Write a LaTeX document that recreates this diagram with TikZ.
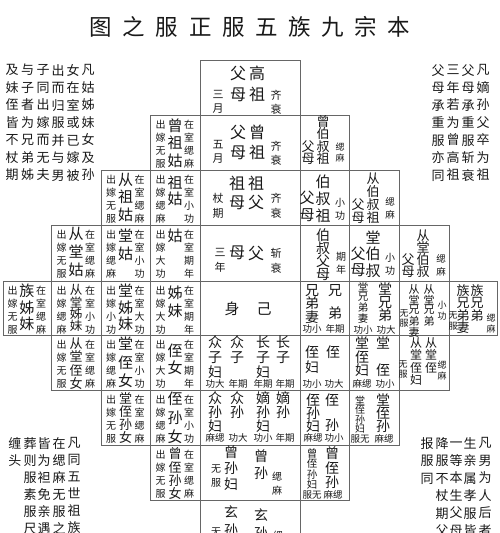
\documentclass[tikz,border=0pt]{standalone}
\usepackage{fontspec}
\setmainfont{Noto Sans CJK SC}
\tikzset{
  grid/.style={draw=black!60, line width=0.8pt},
  vcol/.style={inner sep=0pt, align=center, text=black!90},
  lab/.style={inner sep=0pt, font=\fontsize{9.5}{10}\selectfont, text=black!90},
}
% vertical column: name, x, y of first char centre, size, skip, text
\newcommand\vc[6]{\node[vcol,font=\fontsize{#4}{#5}\selectfont,anchor=north] (#1) at (#2,#3-0.45*#4) {\vphantom{国}#6};}
% female cell: id, xc, y0, left, right, bigsize, bigskip, bigoffset, big
\newcommand\fc[9]{%
 \vc{#1l}{#2-14.5}{#3+9.5}{10}{13}{#4}
 \vc{#1r}{#2+14}{#3+9.5}{10}{13}{#5}
 \vc{#1b}{#2}{#3+#8}{#6}{#7}{#9}}
\begin{document}
\begin{tikzpicture}[x=1pt,y=-1pt]
\useasboundingbox (0,0) rectangle (499,533);
% title
\node[inner sep=0pt,font=\fontsize{22.5}{24}\selectfont,text=black!90] (title) at (250,27)
 {图\hspace{10.6pt}之\hspace{10.6pt}服\hspace{10.6pt}正\hspace{10.6pt}服\hspace{10.6pt}五\hspace{10.6pt}族\hspace{10.6pt}九\hspace{10.6pt}宗\hspace{10.6pt}本};
% grid
\draw[grid] (200,60) rectangle (300,115);
\foreach \a/\b in {150/200,200/300,300/349} \draw[grid] (\a,115) rectangle (\b,170);
\foreach \a/\b in {101/150,150/200,200/300,300/349,349/399} \draw[grid] (\a,170) rectangle (\b,225);
\foreach \a/\b in {51/101,101/150,150/200,200/300,300/349,349/399,399/449} \draw[grid] (\a,225) rectangle (\b,281);
\foreach \a/\b in {3/51,51/101,101/150,150/200,200/300,300/349,349/399,399/449,449/497} \draw[grid] (\a,281) rectangle (\b,335);
\foreach \a/\b in {51/101,101/150,150/200,200/300,300/349,349/399,399/449} \draw[grid] (\a,335) rectangle (\b,390);
\foreach \a/\b in {101/150,150/200,200/300,300/349,349/399} \draw[grid] (\a,390) rectangle (\b,445);
\foreach \a/\b in {150/200,200/300,300/349} \draw[grid] (\a,445) rectangle (\b,500);
\draw[grid] (200,500) rectangle (300,560);
% corner texts
\vc{tl1}{12}{70}{13}{17.5}{及\\妹\\侄\\皆\\不\\杖\\期}
\vc{tl2}{27.5}{70}{13}{17.5}{与\\子\\者\\为\\兄\\弟\\姊}
\vc{tl3}{43}{70}{13}{17.5}{子\\同\\出\\嫁\\而\\无\\夫}
\vc{tl4}{58}{70}{13}{17.5}{出\\而\\归\\服\\并\\与\\男}
\vc{tl5}{73}{70}{13}{17.5}{女\\在\\室\\或\\已\\嫁\\被}
\vc{tl6}{88}{70}{13}{17.5}{凡\\姑\\姊\\妹\\女\\及\\孙}
\vc{tr1}{438}{70}{13}{17.5}{父\\母\\承\\重\\服\\亦\\同}
\vc{tr2}{453}{70}{13}{17.5}{三\\年\\若\\为\\曾\\高\\祖}
\vc{tr3}{468}{70}{13}{17.5}{父\\母\\承\\重\\服\\斩\\衰}
\vc{tr4}{483}{70}{13}{17.5}{凡\\嫡\\孙\\父\\卒\\为\\祖}
\vc{bl1}{15}{443}{13}{17}{缠\\头}
\vc{bl2}{30}{443}{13}{17}{葬\\则\\服\\素\\服\\尺}
\vc{bl3}{44}{443}{13}{17}{皆\\为\\袒\\免\\亲\\遇}
\vc{bl4}{59}{443}{13}{17}{在\\缌\\麻\\无\\服\\之}
\vc{bl5}{74}{443}{13}{17}{凡\\同\\五\\世\\祖\\族}
\vc{br1}{427}{443}{13}{17.5}{报\\服\\同}
\vc{br2}{442}{443}{13}{17.5}{降\\服\\不\\杖\\期\\父}
\vc{br3}{456}{443}{13}{17.5}{一\\等\\本\\生\\父\\母}
\vc{br4}{470}{443}{13}{17.5}{生\\亲\\属\\孝\\服\\皆}
\vc{br5}{485}{443}{13}{17.5}{凡\\男\\为\\人\\后\\者}
% female cells
\fc{a}{175}{115}{出\\嫁\\无\\服}{在\\室\\缌\\麻}{15}{17.5}{10}{曾\\祖\\姑}
\fc{b}{125.5}{170}{出\\嫁\\无\\服}{在\\室\\缌\\麻}{15}{17.5}{9.5}{从\\祖\\姑}
\fc{c}{175}{170}{出\\嫁\\缌\\麻}{在\\室\\小\\功}{15}{16.5}{12}{祖\\姑}
\fc{d}{76}{225}{出\\嫁\\无\\服}{在\\室\\缌\\麻}{15}{18}{9}{从\\堂\\姑}
\fc{e}{125.5}{225}{出\\嫁\\缌\\麻}{在\\室\\小\\功}{15}{18}{10.5}{堂\\姑}
\fc{f}{175}{225}{出\\嫁\\大\\功}{在\\室\\期\\年}{15}{18}{10.5}{姑}
\fc{g}{27}{281}{出\\嫁\\无\\服}{在\\室\\缌\\麻}{15}{16.5}{9.5}{族\\姊\\妹}
\fc{h}{76}{281}{出\\嫁\\缌\\麻}{在\\室\\小\\功}{12.5}{11.5}{9}{从\\堂\\姊\\妹}
\fc{i}{125.5}{281}{出\\嫁\\小\\功}{在\\室\\大\\功}{15}{16.5}{9.5}{堂\\姊\\妹}
\fc{j}{175}{281}{出\\嫁\\大\\功}{在\\室\\期\\年}{15}{18}{11}{姊\\妹}
\fc{k}{76}{335}{出\\嫁\\无\\服}{在\\室\\缌\\麻}{13}{13.3}{8.5}{从\\堂\\侄\\女}
\fc{l}{125.5}{335}{出\\嫁\\缌\\麻}{在\\室\\小\\功}{15}{18.5}{8.5}{堂\\侄\\女}
\fc{m}{175}{335}{出\\嫁\\大\\功}{在\\室\\期\\年}{15}{17}{15}{侄\\女}
\fc{n}{125.5}{390}{出\\嫁\\无\\服}{在\\室\\缌\\麻}{13}{13}{8.5}{堂\\侄\\孙\\女}
\fc{o}{175}{390}{出\\嫁\\缌\\麻}{在\\室\\小\\功}{15}{19}{8.5}{侄\\孙\\女}
\fc{p}{175}{445}{出\\嫁\\无\\服}{在\\室\\缌\\麻}{13}{13.3}{8.5}{曾\\侄\\孙\\女}
% centre column
\vc{c0a}{238}{73}{16}{21}{父\\母}
\vc{c0b}{257}{73}{16}{21}{高\\祖}
\vc{c0c}{218}{95}{11}{13.5}{三\\月}
\vc{c0d}{276}{95}{11}{13.5}{齐\\衰}
\vc{c1a}{238}{132}{16}{20}{父\\母}
\vc{c1b}{257}{132}{16}{20}{曾\\祖}
\vc{c1c}{218}{145}{11}{14}{五\\月}
\vc{c1d}{276}{146}{11}{14}{齐\\衰}
\vc{c2a}{237}{183}{16}{19.5}{祖\\母}
\vc{c2b}{256}{183}{16}{19.5}{祖\\父}
\vc{c2c}{218}{198}{11}{15}{杖\\期}
\vc{c2d}{276}{198}{11}{15}{齐\\衰}
\vc{c3a}{237}{253}{16}{19}{母}
\vc{c3b}{256}{253}{16}{19}{父}
\vc{c3c}{220}{253}{11}{15}{三\\年}
\vc{c3d}{276}{253}{11}{15}{斩\\衰}
\node[inner sep=0pt,font=\fontsize{15}{16}\selectfont,text=black!90] (c4a) at (232,309) {身};
\node[inner sep=0pt,font=\fontsize{15}{16}\selectfont,text=black!90] (c4b) at (264,309) {己};
\vc{c5a}{215}{342}{14}{15}{众\\子\\妇}
\vc{c5b}{237}{342}{14}{15}{众\\子}
\vc{c5c}{263}{342}{14}{15}{长\\子\\妇}
\vc{c5d}{283}{342}{14}{15}{长\\子}
\node[lab] (c5e) at (215,384) {功大};
\node[lab] (c5f) at (238,384) {年期};
\node[lab] (c5g) at (263,384) {年期};
\node[lab] (c5h) at (285,384) {年期};
\vc{c6a}{215}{398}{14}{14}{众\\孙\\妇}
\vc{c6b}{237}{398}{14}{14}{众\\孙}
\vc{c6c}{263}{398}{14}{14}{嫡\\孙\\妇}
\vc{c6d}{283}{398}{14}{14}{嫡\\孙}
\node[lab] (c6e) at (215,438) {麻缌};
\node[lab] (c6f) at (238,438) {功大};
\node[lab] (c6g) at (263,438) {功小};
\node[lab] (c6h) at (285,438) {年期};
\vc{c7a}{231}{452}{14}{16}{曾\\孙\\妇}
\vc{c7b}{216}{469}{10}{14}{无\\服}
\vc{c7c}{261}{456}{14}{17}{曾\\孙}
\vc{c7d}{277}{476}{10}{14}{缌\\麻}
\vc{c8a}{231}{512}{14}{18}{玄\\孙\\妇}
\vc{c8b}{216}{532}{10}{14}{无\\服}
\vc{c8c}{261}{515}{14}{18}{玄\\孙}
\vc{c8d}{278}{535}{10}{14}{缌\\麻}
% right side
\vc{s1a}{323}{121}{13}{12.5}{曾\\伯\\叔\\祖}
\vc{s1b}{308}{146}{13}{12.5}{父\\母}
\vc{s1c}{340}{147}{9}{11}{缌\\麻}
\vc{s2a}{323}{181}{15}{17}{伯\\叔\\祖}
\vc{s2b}{307}{198}{15}{17}{父\\母}
\vc{s2c}{340}{203}{10}{12.5}{小\\功}
\vc{s3a}{373}{178}{13}{13}{从\\伯\\叔\\祖}
\vc{s3b}{358}{204}{13}{13}{父\\母}
\vc{s3c}{390}{202}{9.5}{13}{缌\\麻}
\vc{s4a}{323}{235}{14}{13}{伯\\叔\\父\\母}
\vc{s4c}{341}{257}{10}{13}{期\\年}
\vc{s5a}{373}{237}{15}{16.5}{堂\\伯\\叔}
\vc{s5b}{358}{253.5}{15}{16.5}{父\\母}
\vc{s5c}{390}{258}{10}{13}{小\\功}
\vc{s6a}{423}{235}{13}{12}{从\\堂\\伯\\叔}
\vc{s6b}{408}{259}{13}{12}{父\\母}
\vc{s6c}{441}{259}{9.5}{13}{缌\\麻}
\vc{s7a}{312}{290}{14}{11.8}{兄\\弟\\妻}
\vc{s7b}{335}{290}{14}{23}{兄\\弟}
\node[lab] (s7c) at (312,329) {功小};
\node[lab] (s7d) at (335,329) {年期};
\vc{s8a}{363}{287}{10.5}{9.5}{堂\\兄\\弟\\妻}
\vc{s8b}{385}{289}{14}{13}{堂\\兄\\弟}
\node[lab] (s8c) at (363,329.5) {功小};
\node[lab] (s8d) at (386,329.5) {功大};
\vc{s9a}{414}{289}{11}{9.5}{从\\堂\\兄\\弟\\妻}
\vc{s9b}{429}{289}{11}{9.5}{从\\堂\\兄\\弟}
\vc{s9c}{404}{313}{9}{10.5}{无\\服}
\vc{s9d}{442}{305}{9}{11}{小\\功}
\vc{s10a}{463}{290}{13}{12.5}{族\\兄\\弟\\妻}
\vc{s10b}{477}{290}{13}{12.5}{族\\兄\\弟}
\vc{s10c}{453}{315}{9}{11}{无\\服}
\vc{s10d}{491}{318}{9}{11}{缌\\麻}
\vc{t1a}{312}{352}{14}{15}{侄\\妇}
\vc{t1b}{333}{352}{14}{15}{侄}
\node[lab] (t1c) at (312,384) {功小};
\node[lab] (t1d) at (334,384) {功大};
\vc{t2a}{362}{343}{14}{13.5}{堂\\侄\\妇}
\vc{t2b}{383}{343}{14}{27}{堂\\侄}
\node[lab] (t2c) at (362,384) {麻缌};
\node[lab] (t2d) at (385,384) {功小};
\vc{t3a}{416}{343}{12}{12.3}{从\\堂\\侄\\妇}
\vc{t3b}{431}{343}{12}{12.3}{从\\堂\\侄}
\vc{t3c}{403}{364}{9}{10.5}{无\\服}
\vc{t3d}{442}{365}{9}{10.5}{缌\\麻}
\vc{t4a}{313}{400}{14}{13}{侄\\孙\\妇}
\vc{t4b}{332}{400}{14}{25}{侄\\孙}
\node[lab] (t4c) at (313,438) {麻缌};
\node[lab] (t4d) at (334,438) {功小};
\vc{t5a}{360}{400}{10}{9.5}{堂\\侄\\孙\\妇}
\vc{t5b}{383}{400}{14}{13}{堂\\侄\\孙}
\node[lab] (t5c) at (360,439) {服无};
\node[lab] (t5d) at (384,439) {麻缌};
\vc{t6a}{312}{453}{10.5}{10.5}{曾\\侄\\孙\\妇}
\vc{t6b}{332}{453}{14}{14.5}{曾\\侄\\孙}
\node[lab] (t6c) at (312,495) {服无};
\node[lab] (t6d) at (333,495) {麻缌};
\end{tikzpicture}
\end{document}
